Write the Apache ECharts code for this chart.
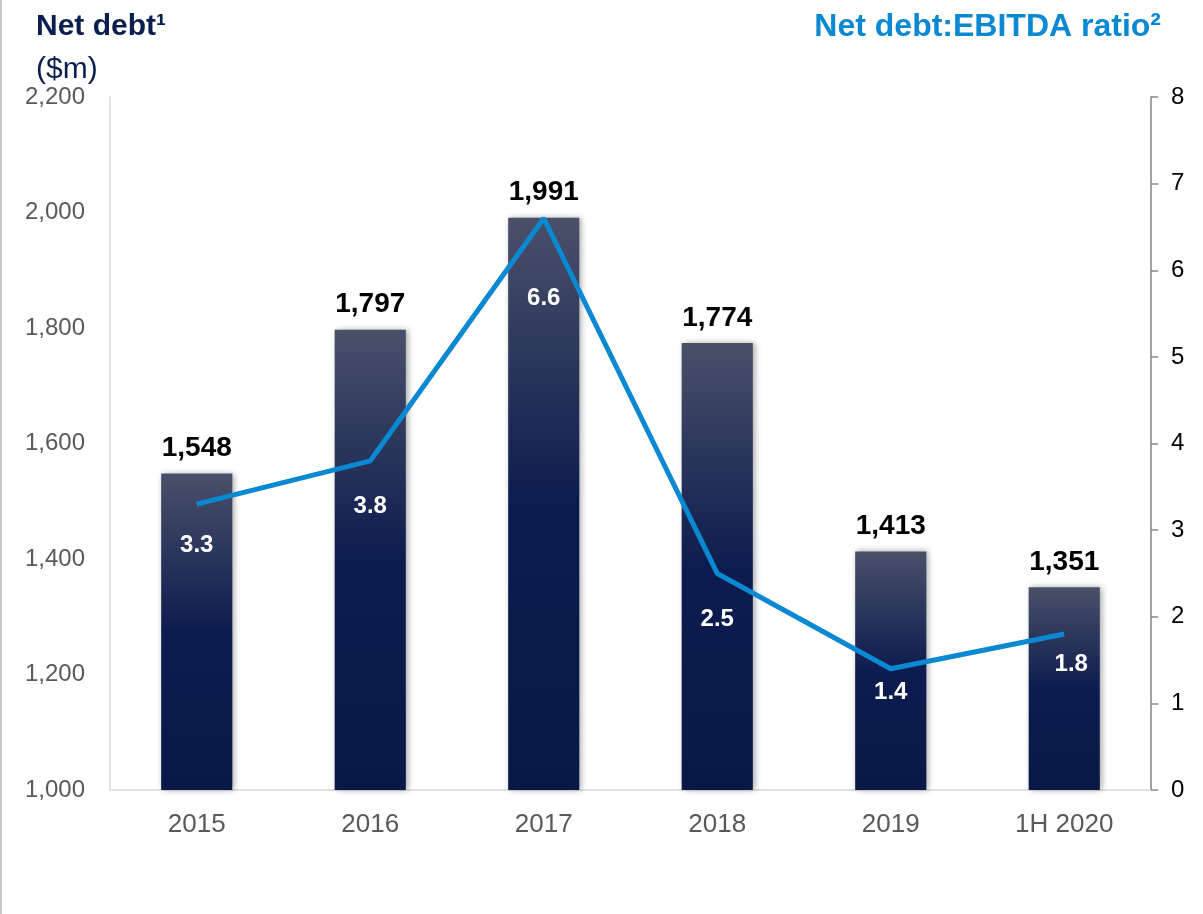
<!DOCTYPE html>
<html>
<head>
<meta charset="utf-8">
<script src="https://cdn.jsdelivr.net/npm/echarts@6/dist/echarts.min.js"></script>
<style>
  html, body { margin: 0; padding: 0; background: #fff; }
  #chart { width: 1203px; height: 914px; border-left: 2px solid #c8c8c8; box-sizing: border-box; }
</style>
</head>
<body>
<div id="chart"></div>
<script>
var categories = ['2015', '2016', '2017', '2018', '2019', '1H 2020'];
var netDebt = [1548, 1797, 1991, 1774, 1413, 1351];
var ratio = [3.3, 3.8, 6.6, 2.5, 1.4, 1.8];
// label nudges for the ratio values (dx, dy in px, relative to 'bottom' position)
var ratioLabelOffsets = [[0, 24], [0, 29], [0, 63], [0, 29], [0, 7], [7, 13]];

var myChart = echarts.init(document.getElementById('chart'));

var option = {
    backgroundColor: '#fff',
    animation: false,
    textStyle: { fontFamily: 'Liberation Sans, Arial, sans-serif' },
    graphic: [
        {
            type: 'text', left: 34, top: 12,
            style: { text: 'Net debt¹', font: 'bold 30px Liberation Sans, Arial', fill: '#0b1f4f' }
        },
        {
            type: 'text', left: 34, top: 55,
            style: { text: '($m)', font: '30px Liberation Sans, Arial', fill: '#0b1f4f' }
        },
        {
            type: 'text', right: 42, top: 11,
            style: { text: 'Net debt:EBITDA ratio²', font: 'bold 32px Liberation Sans, Arial', fill: '#0a88d2' }
        }
    ],
    grid: { left: 108, right: 52, top: 97, bottom: 124 },
    xAxis: {
        type: 'category',
        data: categories,
        axisLine: { lineStyle: { color: '#d9d9d9', width: 1.5 } },
        axisTick: { show: false },
        axisLabel: { color: '#595959', fontSize: 26, margin: 22 }
    },
    yAxis: [
        {
            type: 'value', min: 1000, max: 2200, interval: 200,
            axisLine: { show: true, lineStyle: { color: '#d9d9d9', width: 1.5 } },
            axisTick: { show: false },
            splitLine: { show: false },
            axisLabel: {
                color: '#595959', fontSize: 24, margin: 25,
                formatter: function (v) { return v.toLocaleString('en-US'); }
            }
        },
        {
            type: 'value', min: 0, max: 8, interval: 1, position: 'right',
            axisLine: { show: true, lineStyle: { color: '#868686', width: 1.5 } },
            axisTick: { show: true, length: 7, lineStyle: { color: '#868686', width: 1.5 } },
            splitLine: { show: false },
            axisLabel: { color: '#000', fontSize: 24, margin: 20 }
        }
    ],
    series: [
        {
            name: 'Net debt',
            type: 'bar',
            data: netDebt,
            barWidth: '41%',
            itemStyle: {
                color: new echarts.graphic.LinearGradient(0, 0, 0, 1, [
                    { offset: 0, color: '#4a5069' },
                    { offset: 0.5, color: '#0d1c4f' },
                    { offset: 1, color: '#081846' }
                ]),
                shadowBlur: 6,
                shadowOffsetX: 2,
                shadowColor: 'rgba(0,0,0,0.35)'
            },
            label: {
                show: true, position: 'top', distance: 11,
                color: '#000', fontSize: 28, fontWeight: 'bold',
                formatter: function (p) { return p.value.toLocaleString('en-US'); }
            },
            z: 2
        },
        {
            name: 'Net debt:EBITDA ratio',
            type: 'line',
            yAxisIndex: 1,
            data: ratio,
            symbol: 'circle',
            symbolSize: 2,
            showSymbol: true,
            itemStyle: { color: 'rgba(0,0,0,0)', borderWidth: 0 },
            lineStyle: { color: '#0a88d2', width: 5 },
            label: {
                show: true, position: 'bottom', distance: 4,
                color: '#fff', fontSize: 24, fontWeight: 'bold',
                formatter: function (p) { return p.value.toFixed(1); }
            },
            labelLayout: function (params) {
                var o = ratioLabelOffsets[params.dataIndex];
                return { dx: o[0], dy: o[1], hideOverlap: false };
            },
            z: 3
        }
    ]
};

myChart.setOption(option);
</script>
</body>
</html>
